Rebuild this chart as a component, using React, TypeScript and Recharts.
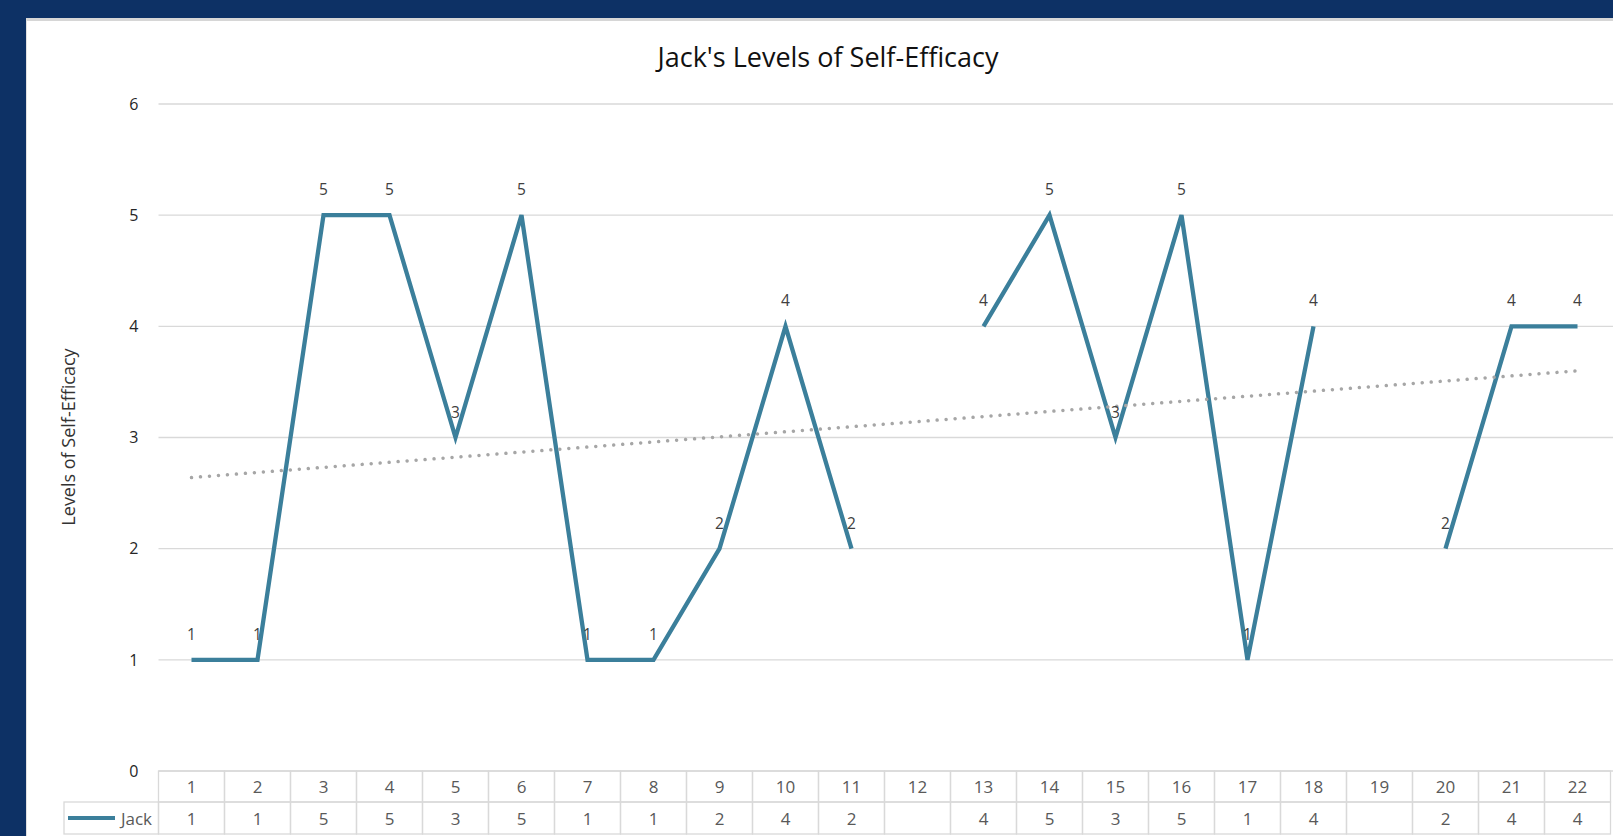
import { LineChart, Line, XAxis, YAxis, CartesianGrid, LabelList, Label } from "recharts";

// categories (session numbers) and Jack's ratings; null = no rating that session
const categories = [1, 2, 3, 4, 5, 6, 7, 8, 9, 10, 11, 12, 13, 14, 15, 16, 17, 18, 19, 20, 21, 22];
const jack = [1, 1, 5, 5, 3, 5, 1, 1, 2, 4, 2, null, 4, 5, 3, 5, 1, 4, null, 2, 4, 4];
// linear trendline (value at first and last category)
const trendStart = 2.64;
const trendEnd = 3.6;
const yTicks = [0, 1, 2, 3, 4, 5, 6];

const data = categories.map((c, i) => ({
  cat: c,
  jack: jack[i],
  trend: i === 0 ? trendStart : i === categories.length - 1 ? trendEnd : null,
}));

const W = 1613;
const H = 836;
const PLOT_LEFT = 158.5;
const TABLE_RIGHT = 1610.5;
const AXIS_Y = 771;
const ROW1 = 31;
const ROW2 = 32;
const BAND = (TABLE_RIGHT - PLOT_LEFT) / categories.length;

const LINE_COLOR = "#3b7f9b";
const BORDER = "#d9d9d9";
const FONT = "'Open Sans', 'Noto Sans', sans-serif";

function TableTick(props: any) {
  const { x, y, payload, index } = props;
  const i = categories.indexOf(payload.value);
  const v = jack[i];
  const left = x - BAND / 2;
  return (
    <g fontFamily={FONT} fontSize={17} fill="#595959">
      <rect x={left} y={y} width={BAND} height={ROW1} fill="none" stroke={BORDER} strokeWidth={1.3} />
      <text x={x} y={y + ROW1 / 2} dominantBaseline="central" textAnchor="middle">
        {payload.value}
      </text>
      <rect x={left} y={y + ROW1} width={BAND} height={ROW2} fill="none" stroke={BORDER} strokeWidth={1.3} />
      <text x={x} y={y + ROW1 + ROW2 / 2} dominantBaseline="central" textAnchor="middle">
        {v ?? ""}
      </text>
      {index === 0 && (
        <g>
          <rect x={64} y={y + ROW1} width={left - 64} height={ROW2} fill="none" stroke={BORDER} strokeWidth={1.3} />
          <line x1={68} x2={115} y1={y + ROW1 + ROW2 / 2} y2={y + ROW1 + ROW2 / 2} stroke={LINE_COLOR} strokeWidth={4} />
          <text x={152} y={y + ROW1 + ROW2 / 2} dominantBaseline="central" textAnchor="end">
            Jack
          </text>
        </g>
      )}
    </g>
  );
}

function PointLabel(props: any) {
  const { x, y, value } = props;
  if (value == null) return null;
  return (
    <text x={x} y={y - 20} textAnchor="middle" fontFamily={FONT} fontSize={15.5} fill="#404040">
      {value}
    </text>
  );
}

export default function App() {
  return (
    <div
      style={{
        position: "fixed",
        left: 0,
        top: 0,
        width: W,
        height: H,
        overflow: "hidden",
        background: "#0d3165",
      }}
    >
      <div
        style={{
          position: "absolute",
          left: 26,
          top: 18,
          right: 0,
          bottom: 0,
          background: "#ffffff",
          borderTop: "3px solid #d6d6d6",
          borderLeft: "1px solid #e0e0e0",
        }}
      />
      <div
        style={{
          position: "absolute",
          left: 0,
          width: 1656,
          top: 37,
          lineHeight: "40px",
          textAlign: "center",
          fontFamily: FONT,
          fontSize: 27,
          color: "#111111",
        }}
      >
        Jack's Levels of Self-Efficacy
      </div>
      <div style={{ position: "absolute", left: 0, top: 0 }}>
        <LineChart
          width={W}
          height={H}
          data={data}
          margin={{ top: 104, right: 0, bottom: 0, left: PLOT_LEFT - 60 }}
        >
          <CartesianGrid vertical={false} stroke={BORDER} strokeWidth={1.3} />
          <XAxis
            dataKey="cat"
            type="number"
            domain={[0.5, 22.5]}
            ticks={categories}
            interval={0}
            height={H - AXIS_Y}
            padding={{ left: 0, right: W - TABLE_RIGHT }}
            axisLine={false}
            tickLine={false}
            tickSize={0}
            tickMargin={0}
            tick={<TableTick />}
          />
          <YAxis
            domain={[0, 6]}
            ticks={yTicks}
            width={60}
            axisLine={false}
            tickLine={false}
            tickSize={0}
            tickMargin={20}
            tick={{ fontFamily: FONT, fontSize: 16, fill: "#262626" }}
          >
            <Label
              content={() => (
                <text
                  x={68}
                  y={437}
                  transform="rotate(-90 68 437)"
                  textAnchor="middle"
                  dominantBaseline="central"
                  fontFamily={FONT}
                  fontSize={18}
                  fill="#333333"
                >
                  Levels of Self-Efficacy
                </text>
              )}
            />
          </YAxis>
          <Line
            dataKey="jack"
            stroke={LINE_COLOR}
            strokeWidth={4.3}
            dot={false}
            activeDot={false}
            connectNulls={false}
            isAnimationActive={false}
          >
            <LabelList dataKey="jack" content={<PointLabel />} />
          </Line>
          <Line
            dataKey="trend"
            stroke="#a6a6a6"
            strokeWidth={3.5}
            strokeDasharray="0.01 9"
            strokeLinecap="round"
            dot={false}
            activeDot={false}
            connectNulls
            isAnimationActive={false}
          />
        </LineChart>
      </div>
    </div>
  );
}
